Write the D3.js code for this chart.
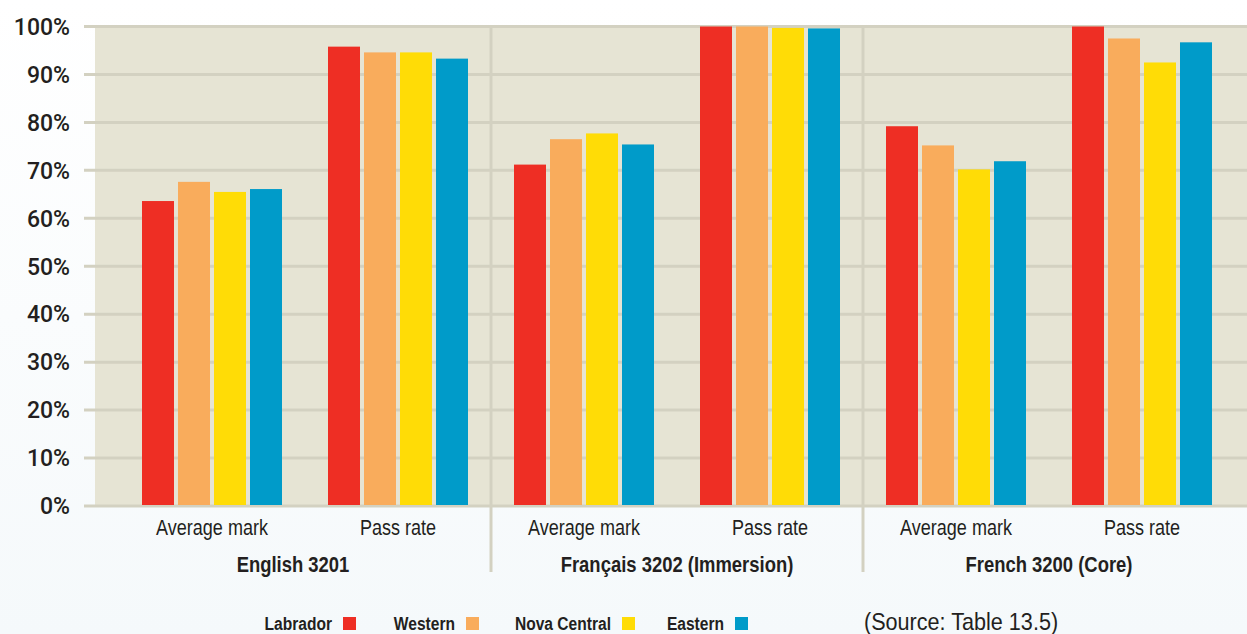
<!DOCTYPE html>
<meta charset="utf-8">
<script src="https://d3js.org/d3.v7.min.js"></script>
<style>
  body { margin: 0; }
  text { fill: #231f20; }
</style>
<body>
<div id="chart"></div>
<script>
// data
var courses = ["English 3201", "Français 3202 (Immersion)", "French 3200 (Core)"];
var metrics = ["Average mark", "Pass rate"];
var regions = ["Labrador", "Western", "Nova Central", "Eastern"];
var colors = ["#ee2e24", "#f9ac5c", "#ffdc06", "#009bc9"];
// one array per region: [Eng avg, Eng pass, Fra avg, Fra pass, Fr avg, Fr pass]
var labrador    = [63.6, 95.8, 71.2, 100.0, 79.2, 100.0];
var western     = [67.6, 94.6, 76.5, 100.0, 75.2, 97.5];
var novaCentral = [65.5, 94.6, 77.7, 99.7, 70.2, 92.5];
var eastern     = [66.1, 93.3, 75.4, 99.6, 71.9, 96.7];
var yTicks = [0, 10, 20, 30, 40, 50, 60, 70, 80, 90, 100];
var source = "(Source: Table 13.5)";

var series = [labrador, western, novaCentral, eastern];

var W = 1247, H = 634;
var panel = { left: 95, right: 1247, top: 26.5, bottom: 506 };
var squeeze = 0.82; // fake a narrow face

var svg = d3.select("#chart").append("svg")
    .attr("width", W).attr("height", H);

var defs = svg.append("defs");
var grad = defs.append("linearGradient").attr("id", "bg")
    .attr("x1", 0).attr("y1", 0).attr("x2", 0).attr("y2", 1);
grad.append("stop").attr("offset", "0").attr("stop-color", "#ffffff");
grad.append("stop").attr("offset", "1").attr("stop-color", "#f5f9fb");
svg.append("rect").attr("width", W).attr("height", H).attr("fill", "url(#bg)");

// scales
var y = d3.scaleLinear().domain([0, 100]).range([panel.bottom, panel.top]);
var x0 = d3.scaleBand().domain(courses).range([119, 1235]);
var x1 = d3.scaleBand().domain(metrics).range([0, x0.bandwidth()]);
var x2 = d3.scaleBand().domain(regions)
    .range([23, 163]).paddingInner(4 / 36).paddingOuter(0);

// panel background
svg.append("rect")
    .attr("x", panel.left).attr("y", panel.top)
    .attr("width", panel.right - panel.left)
    .attr("height", panel.bottom - panel.top)
    .attr("fill", "#e6e4d4");

// gridlines
svg.append("g").selectAll("line")
    .data(yTicks).enter().append("line")
    .attr("x1", 84).attr("x2", W)
    .attr("y1", function (d) { return y(d); })
    .attr("y2", function (d) { return y(d); })
    .attr("stroke", "#d3d1c1").attr("stroke-width", 3);

// separators between courses
svg.append("g").selectAll("line")
    .data(courses.slice(1)).enter().append("line")
    .attr("x1", function (d) { return x0(d); })
    .attr("x2", function (d) { return x0(d); })
    .attr("y1", panel.top).attr("y2", 572)
    .attr("stroke", "#d3d1c1").attr("stroke-width", 3);

// y tick labels
svg.append("g").selectAll("text")
    .data(yTicks).enter().append("text")
    .attr("x", 70).attr("y", function (d) { return y(d); })
    .attr("dy", "0.36em")
    .attr("text-anchor", "end")
    .style("font-family", "Roboto, sans-serif")
    .style("font-weight", 500)
    .style("font-size", "23px")
    .text(function (d) { return d + "%"; });

// bars
var cells = [];
courses.forEach(function (c, ci) {
    metrics.forEach(function (m, mi) {
        regions.forEach(function (r, ri) {
            cells.push({ course: c, metric: m, region: r, color: colors[ri],
                value: series[ri][ci * 2 + mi] });
        });
    });
});

svg.append("g").selectAll("rect")
    .data(cells).enter().append("rect")
    .attr("x", function (d) { return x0(d.course) + x1(d.metric) + x2(d.region); })
    .attr("y", function (d) { return y(d.value); })
    .attr("width", x2.bandwidth())
    .attr("height", function (d) { return y(0) - 1 - y(d.value); })
    .attr("fill", function (d) { return d.color; });

// narrow text helper
function narrowText(sel, size, weight, anchor) {
    return sel.append("text")
        .attr("text-anchor", anchor)
        .attr("transform", "scale(" + squeeze + ",1)")
        .style("font-family", "'Liberation Sans', Arial, sans-serif")
        .style("font-size", size + "px")
        .style("font-weight", weight);
}

// metric labels
courses.forEach(function (c) {
    var g = svg.append("g").selectAll("g")
        .data(metrics).enter().append("g")
        .attr("transform", function (m) {
            return "translate(" + (x0(c) + x1(m) + x1.bandwidth() / 2) + ",535)";
        });
    narrowText(g, 22, "normal", "middle").text(function (m) { return m; });
});

// course labels (first group is centred from the panel edge)
var cg = svg.append("g").selectAll("g")
    .data(courses).enter().append("g")
    .attr("transform", function (c, i) {
        var left = i === 0 ? panel.left : x0(c);
        return "translate(" + ((left + x0(c) + x0.bandwidth()) / 2) + ",572)";
    });
narrowText(cg, 22.5, "bold", "middle").text(function (c) { return c; });

// legend
var legendX = [343, 466, 622, 735];
var legend = svg.append("g").selectAll("g")
    .data(regions).enter().append("g")
    .attr("transform", function (d, i) { return "translate(" + legendX[i] + ",617)"; });
legend.append("rect")
    .attr("width", 13).attr("height", 13)
    .attr("fill", function (d, i) { return colors[i]; });
var lt = legend.append("g").attr("transform", "translate(-11,13)");
narrowText(lt, 19, "bold", "end").text(function (d) { return d; });

var sg = svg.append("g").attr("transform", "translate(864,630)");
narrowText(sg, 24, "normal", "start").attr("transform", "scale(0.9,1)").text(source);
</script>
</body>
